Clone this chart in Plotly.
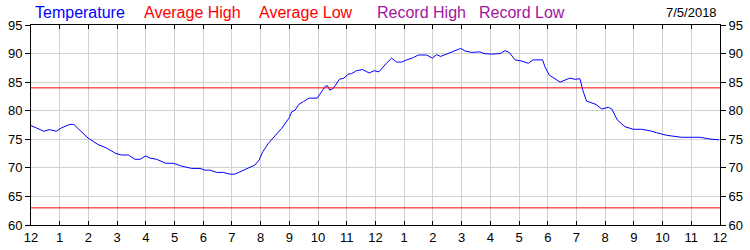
import plotly.graph_objects as go

hours = [0.0, 0.45, 0.65, 0.88, 1.06, 1.35, 1.49, 1.75, 1.99, 2.33, 2.62, 2.96, 3.16, 3.39, 3.62, 3.80,
         4.0, 4.15, 4.38, 4.69, 4.96, 5.25, 5.6, 5.89, 6.06, 6.23, 6.47, 6.70, 6.93, 7.1, 7.28, 7.57,
         7.8, 7.95, 8.07, 8.27, 8.44, 8.73, 9.0, 9.08, 9.2, 9.33, 9.49, 9.68, 9.97, 10.09, 10.24, 10.32,
         10.41, 10.53, 10.74, 10.9, 11.05, 11.17, 11.34, 11.55, 11.78, 11.95, 12.12, 12.36, 12.56, 12.74,
         12.91, 13.09, 13.32, 13.49, 13.78, 13.98, 14.13, 14.27, 14.6, 14.77, 14.97, 15.12, 15.35, 15.64,
         15.78, 16.05, 16.34, 16.51, 16.66, 16.86, 17.09, 17.32, 17.49, 17.82, 17.9, 18.05, 18.25, 18.43,
         18.77, 18.95, 19.12, 19.22, 19.35, 19.53, 19.68, 19.88, 20.11, 20.23, 20.42, 20.69, 20.98, 21.27,
         21.56, 21.79, 22.14, 22.66, 23.3, 23.65, 23.97]
temps = [77.4, 76.4, 76.7, 76.4, 77.0, 77.6, 77.6, 76.3, 75.2, 74.1, 73.5, 72.5, 72.25, 72.25, 71.5, 71.5,
         72.1, 71.7, 71.5, 70.8, 70.8, 70.3, 69.9, 69.9, 69.6, 69.6, 69.2, 69.2, 68.9, 68.9, 69.3, 70.0,
         70.5, 71.4, 72.8, 74.3, 75.2, 76.9, 78.8, 79.8, 80.1, 81.1, 81.6, 82.2, 82.2, 83.0, 84.2, 84.4,
         83.6, 83.9, 85.5, 85.7, 86.4, 86.5, 87.0, 87.2, 86.6, 87.0, 86.8, 88.2, 89.2, 88.5,
         88.5, 88.9, 89.3, 89.75, 89.75, 89.2, 89.8, 89.5, 90.2, 90.45, 90.9, 90.45, 90.2, 90.3,
         90.0, 89.9, 90.0, 90.5, 90.2, 88.9, 88.7, 88.3, 88.9, 88.9, 87.7, 86.25, 85.55, 85.0,
         85.7, 85.5, 85.6, 83.6, 81.7, 81.3, 81.1, 80.3, 80.6, 80.3, 78.4, 77.2, 76.75, 76.75,
         76.5, 76.15, 75.7, 75.35, 75.35, 75.05, 74.9]
avg_high = 84
avg_low = 63
tick_hours = list(range(0, 25))
tick_labels = ["12"] + [str(i) for i in range(1, 12)] + ["12"] + [str(i) for i in range(1, 12)] + ["12"]
y_ticks = [60, 65, 70, 75, 80, 85, 90, 95]
legend_labels = ["Temperature", "Average High", "Average Low", "Record High", "Record Low"]
legend_colors = ["#0000ff", "#ff0000", "#ff0000", "#a0169e", "#a0169e"]
legend_x = [33, 142, 257, 375, 477]
date_label = "7/5/2018"

FONT = "Liberation Sans, Arial, sans-serif"
L, R, T, B = 31, 30, 25, 25
PW, PH = 750 - L - R, 250 - T - B

fig = go.Figure()
fig.add_trace(go.Scatter(x=hours, y=temps, mode="lines", line=dict(color="#0000ff", width=1), hoverinfo="skip"))
fig.add_trace(go.Scatter(x=[0, 24], y=[avg_high, avg_high], mode="lines", line=dict(color="#ff0000", width=1)))
fig.add_trace(go.Scatter(x=[0, 24], y=[avg_low, avg_low], mode="lines", line=dict(color="#ff0000", width=1)))
fig.add_trace(go.Scatter(x=[0, 24], y=[60, 60], mode="lines", line=dict(width=0), yaxis="y2", hoverinfo="skip"))

anns = []
for lab, col, xp in zip(legend_labels, legend_colors, legend_x):
    anns.append(dict(x=(xp - L) / PW, y=1 + (T - 13) / PH, xref="paper", yref="paper", text=lab,
                     showarrow=False, xanchor="left", yanchor="middle",
                     font=dict(family=FONT, size=16, color=col)))
anns.append(dict(x=(719 - L) / PW, y=1 + (T - 13) / PH, xref="paper", yref="paper", text=date_label,
                 showarrow=False, xanchor="right", yanchor="middle",
                 font=dict(family=FONT, size=13, color="#000000")))

fig.update_layout(
    width=750, height=250, margin=dict(l=L, r=R, t=T, b=B, autoexpand=False),
    paper_bgcolor="white", plot_bgcolor="white", showlegend=False,
    annotations=anns,
    font=dict(family=FONT, size=13, color="#000000"),
    xaxis=dict(range=[0, 24], tickvals=tick_hours, ticktext=tick_labels, showgrid=True,
               gridcolor="#d0d0d0", gridwidth=1, ticks="inside", ticklen=4, tickcolor="black",
               showline=True, linecolor="black", linewidth=1, mirror="ticks", zeroline=False,
               automargin=False, tickfont=dict(size=13)),
    yaxis=dict(range=[60, 95], tickvals=y_ticks, showgrid=True, gridcolor="#d0d0d0", gridwidth=1,
               ticks="outside", ticklen=5, tickcolor="black", showline=True, linecolor="black",
               linewidth=1, mirror=True, zeroline=False, automargin=False, tickfont=dict(size=13)),
    yaxis2=dict(range=[60, 95], tickvals=y_ticks, overlaying="y", side="right", showgrid=False,
                ticks="outside", ticklen=5, tickcolor="black", showline=False, zeroline=False,
                automargin=False, tickfont=dict(size=13)),
)
fig.write_html("out.html")
